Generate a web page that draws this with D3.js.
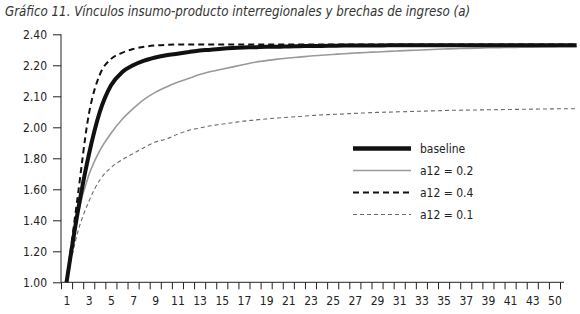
<html>
<head>
<meta charset="utf-8">
<script src="https://cdn.jsdelivr.net/npm/d3@7"></script>
<style>
  body { margin: 0; background: #fff; }
  text { font-family: "DejaVu Sans", sans-serif; font-stretch: condensed; fill: #222; }
</style>
</head>
<body>
<svg id="chart" width="580" height="314"></svg>
<script>
    // periods (x) and the series
    let periods = d3.range(1, 48)
    let xCategories = d3.range(1, 46)
    let xLabels = ["1","3","5","7","9","11","13","15","17","19","21","23","25","27","29","31","33","35","37","39","41","43","50"]

    let yTicks = [1.0, 1.2, 1.4, 1.6, 1.8, 2.0, 2.2, 2.4, 2.6]
    let yLabels = ["1.00","1.20","1.40","1.60","1.80","2.00","2.10","2.20","2.40"]

    let baseline = [1.00, 1.45, 1.82, 2.10, 2.27, 2.355, 2.40, 2.43, 2.45, 2.465,
        2.475, 2.485, 2.495, 2.50, 2.507, 2.512, 2.515, 2.517, 2.52, 2.52,
        2.522, 2.523, 2.525, 2.525, 2.526, 2.527, 2.527, 2.528, 2.528, 2.529,
        2.529, 2.53, 2.53, 2.53, 2.53, 2.53, 2.53, 2.53, 2.53, 2.53,
        2.53, 2.53, 2.53, 2.53, 2.53, 2.53, 2.53]
    let a12_02 = [1.00, 1.43, 1.69, 1.85, 1.96, 2.05, 2.12, 2.18, 2.225, 2.26,
        2.29, 2.315, 2.34, 2.36, 2.375, 2.39, 2.405, 2.42, 2.43, 2.44,
        2.447, 2.453, 2.46, 2.465, 2.47, 2.475, 2.479, 2.483, 2.486, 2.49,
        2.493, 2.496, 2.499, 2.502, 2.505, 2.507, 2.509, 2.511, 2.513, 2.514,
        2.515, 2.516, 2.517, 2.518, 2.519, 2.52, 2.52]
    let a12_04 = [1.00, 1.55, 2.08, 2.34, 2.44, 2.48, 2.505, 2.52, 2.528, 2.532,
        2.534, 2.535, 2.535, 2.535, 2.535, 2.535, 2.535, 2.535, 2.535, 2.535,
        2.535, 2.535, 2.535, 2.535, 2.535, 2.535, 2.535, 2.535, 2.535, 2.535,
        2.535, 2.535, 2.535, 2.535, 2.535, 2.535, 2.535, 2.535, 2.535, 2.535,
        2.535, 2.535, 2.535, 2.535, 2.535, 2.535, 2.535]
    let a12_01 = [1.00, 1.32, 1.52, 1.66, 1.74, 1.79, 1.83, 1.87, 1.905, 1.925,
        1.955, 1.98, 1.995, 2.01, 2.02, 2.03, 2.04, 2.047, 2.054, 2.06,
        2.065, 2.07, 2.075, 2.08, 2.083, 2.086, 2.09, 2.093, 2.096, 2.098,
        2.10, 2.102, 2.104, 2.106, 2.108, 2.11, 2.111, 2.112, 2.113, 2.114,
        2.115, 2.116, 2.117, 2.118, 2.119, 2.12, 2.12]

    let series = [
        { name: "a12 = 0.1", values: a12_01, color: "#6a6a6a", width: 1.1, dash: "4,3" },
        { name: "a12 = 0.2", values: a12_02, color: "#9a9a9a", width: 1.6, dash: null },
        { name: "baseline", values: baseline, color: "#111", width: 4, dash: null },
        { name: "a12 = 0.4", values: a12_04, color: "#111", width: 2, dash: "6,4" }
    ]
    let legendOrder = ["baseline", "a12 = 0.2", "a12 = 0.4", "a12 = 0.1"]

    let svg = d3.select("#chart")

    svg.append("text")
        .attr("x", 5).attr("y", 16)
        .style("font-size", "13.2px").style("font-style", "italic").style("fill", "#333")
        .text("Gráfico 11. Vínculos insumo-producto interregionales y brechas de ingreso (a)")

    let x = d3.scaleLinear().domain([0.5, 45.5]).range([61, 560])
    let y = d3.scaleLinear().domain([1.0, 2.6]).range([282.3, 34.3])

    // y axis
    let yAxis = d3.axisLeft(y)
        .tickValues(yTicks)
        .tickSize(8)
        .tickPadding(6)
        .tickFormat((d, i) => yLabels[i])
    let gy = svg.append("g").attr("transform", "translate(61,0)").call(yAxis)
    gy.select(".domain").attr("d", "M0," + y(2.6) + "V" + y(1.0))

    // x axis: ticks on category boundaries, labels on odd categories
    let xTickAxis = d3.axisBottom(x)
        .tickValues(d3.range(0.5, 46, 1))
        .tickSize(7)
        .tickFormat("")
    let gx = svg.append("g").attr("transform", "translate(0,282.3)").call(xTickAxis)
    gx.select(".domain").attr("d", "M61,0H564")

    let oddCats = xCategories.filter(d => d % 2 === 1)
    let xLabelAxis = d3.axisBottom(x)
        .tickValues(oddCats)
        .tickSize(0)
        .tickPadding(14)
        .tickFormat((d, i) => xLabels[i])
    let gxl = svg.append("g").attr("transform", "translate(0,282.3)").call(xLabelAxis)
    gxl.select(".domain").remove()

    svg.selectAll(".tick line").attr("stroke", "#222")
    svg.selectAll(".domain").attr("stroke", "#222")
    svg.selectAll(".tick text").style("font-size", "12px").style("fill", "#222")
        .style("font-family", "'DejaVu Sans', sans-serif").style("font-stretch", "condensed")

    // lines
    let line = d3.line()
        .x((d, i) => x(periods[i]))
        .y(d => y(d))
        .curve(d3.curveMonotoneX)

    svg.append("g").selectAll("path")
        .data(series)
        .join("path")
        .attr("d", d => line(d.values))
        .attr("fill", "none")
        .attr("stroke", d => d.color)
        .attr("stroke-width", d => d.width)
        .attr("stroke-dasharray", d => d.dash)

    // legend
    let legend = svg.append("g").attr("transform", "translate(353,148.5)")
    let items = legend.selectAll("g")
        .data(legendOrder.map(n => series.find(s => s.name === n)))
        .join("g")
        .attr("transform", (d, i) => "translate(0," + (i * 22) + ")")
    items.append("line")
        .attr("x1", 0).attr("x2", 58)
        .attr("stroke", d => d.color)
        .attr("stroke-width", d => d.name === "baseline" ? 4.5 : d.width)
        .attr("stroke-dasharray", d => d.dash)
    items.append("text")
        .attr("x", 67).attr("y", 4)
        .style("font-size", "12px")
        .text(d => d.name)
</script>
</body>
</html>
